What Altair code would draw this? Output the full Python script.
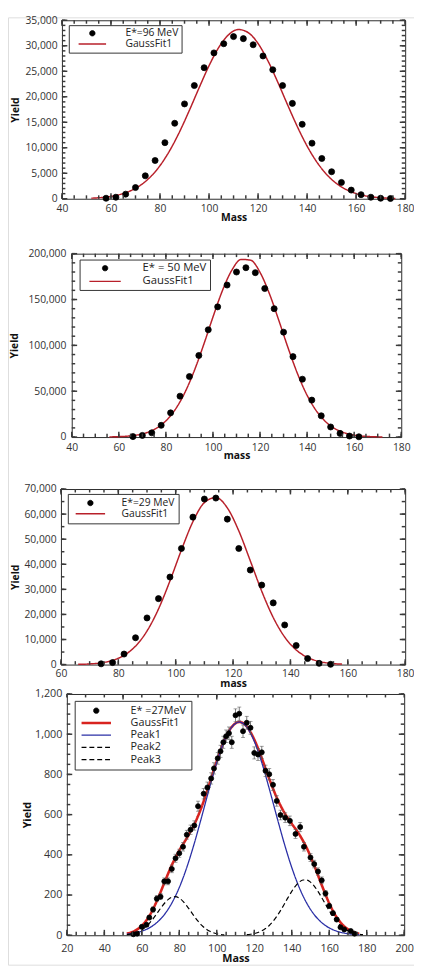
import altair as alt
import pandas as pd

FONT = "Open Sans"
PAGE = 8
W, H = 414, 966

# ---------------- Panel 1 : E*=96 MeV ----------------
p1_series = ["E*=96 MeV", "GaussFit1"]
p1_mass = [58, 62, 66, 70, 74, 78, 82, 86, 90, 94, 98, 102, 106, 110, 114,
           118, 122, 126, 130, 134, 138, 142, 146, 150, 154, 158, 162, 166, 170, 174]
p1_yield = [100, 300, 900, 2200, 4500, 7500, 11000, 14800, 18600, 22200, 25700, 28600, 30400, 31800, 31400,
            30200, 28000, 25300, 22200, 18700, 14600, 10900, 7900, 5300, 3200, 1700, 800, 300, 100, 50]
p1_fit_mass = [52, 56, 60, 64, 68, 72, 76, 80, 84, 88, 92, 96, 100, 104, 108, 112,
               116, 120, 124, 128, 132, 136, 140, 144, 148, 152, 156, 160, 164, 168, 172, 176]
p1_fit_yield = [117, 240, 473, 880, 1563, 2642, 4247, 6500, 9480, 13150, 17360, 21810, 26090, 29700, 32170, 33190,
                32570, 30440, 27060, 22910, 18460, 14160, 10330, 7180, 4750, 2990, 1790, 1020, 555, 287, 141, 66]
p1_xticks = [40, 60, 80, 100, 120, 140, 160, 180]
p1_yticks = [0, 5000, 10000, 15000, 20000, 25000, 30000, 35000]

# ---------------- Panel 2 : E* = 50 MeV ----------------
p2_series = ["E* = 50 MeV", "GaussFit1"]
p2_mass = [66, 70, 74, 78, 82, 86, 90, 94, 98, 102, 106, 110, 114, 118, 122, 126,
           130, 134, 138, 142, 146, 150, 154, 158, 162]
p2_yield = [500, 1800, 4600, 12800, 26400, 44600, 66000, 89000, 117000, 142000, 165800, 180000, 184700,
            179300, 162000, 140000, 114400, 87700, 63100, 40300, 23200, 11000, 4000, 1100, 300]
p2_fit_mass = [56, 60, 64, 68, 72, 76, 80, 84, 88, 92, 96, 100, 104, 108, 112, 116,
               120, 124, 128, 132, 136, 140, 144, 148, 152, 156, 160, 164, 168, 172]
p2_fit_yield = [173, 441, 1055, 2364, 4942, 9655, 17660, 30170, 48190, 71920, 100350, 130900, 159600, 181900,
                193750, 192900, 179600, 156250, 127100, 96620, 68640, 45600, 28330, 16440, 8910, 4520, 2145,
                950, 393, 152]
p2_xticks = [40, 60, 80, 100, 120, 140, 160, 180]
p2_yticks = [0, 50000, 100000, 150000, 200000]

# ---------------- Panel 3 : E*=29 MeV ----------------
p3_series = ["E*=29 MeV", "GaussFit1"]
p3_mass = [74, 78, 82, 86, 90, 94, 98, 102, 106, 110, 114, 118, 122, 126, 130, 134, 138, 142, 146, 150, 154]
p3_yield = [300, 800, 4200, 10700, 18600, 26300, 34900, 46300, 58800, 66000, 66400, 58000, 46300, 37700,
            31700, 24600, 15800, 7600, 2400, 500, 100]
p3_fit_mass = [66, 70, 74, 78, 82, 86, 90, 94, 98, 102, 106, 110, 114, 118, 122, 126,
               130, 134, 138, 142, 146, 150, 154, 158]
p3_fit_yield = [89, 260, 692, 1671, 3674, 7355, 13390, 22160, 33370, 45720, 56970, 64590, 66600, 62480,
                53310, 41390, 29230, 18780, 10970, 5830, 2820, 1240, 497, 180]
p3_xticks = [60, 80, 100, 120, 140, 160, 180]
p3_yticks = [0, 10000, 20000, 30000, 40000, 50000, 60000, 70000]

# ---------------- Panel 4 : E* =27MeV ----------------
p4_series = ["E* =27MeV", "GaussFit1", "Peak1", "Peak2", "Peak3"]
p4_mass = [55.5, 57.5, 60, 62.5, 64, 66, 68, 70, 72, 74, 76, 78, 80, 82, 84, 86, 88, 90, 93, 95,
           97, 98.5, 100.5, 102, 103.5, 105, 106.5, 108, 110, 112, 114, 116, 118, 120, 122, 124, 126,
           128, 130, 132, 134, 136.5, 139, 142, 144.5, 146.5, 150, 152, 154, 156, 158, 160, 162, 164,
           166, 168, 171.5, 173.5]
p4_yield = [5, 8, 42, 52, 88, 128, 182, 192, 268, 268, 330, 383, 408, 440, 500, 525, 546, 642, 704, 735,
            780, 830, 880, 915, 960, 990, 1005, 960, 1094, 1102, 1015, 1057, 1032, 907, 899, 910, 818,
            801, 748, 668, 598, 585, 569, 504, 538, 440, 387, 354, 317, 273, 208, 146, 110, 78,
            40, 29, 21, 8]
p4_err = [4, 4, 8, 9, 11, 13, 15, 15, 17, 17, 19, 20, 20, 21, 22, 23, 23, 25, 26, 27,
          28, 28, 29, 30, 30, 31, 31, 30, 32, 33, 31, 32, 32, 30, 30, 30, 28,
          28, 27, 26, 24, 24, 24, 22, 23, 21, 20, 19, 18, 17, 15, 12, 10, 9,
          7, 6, 5, 4]
p4_sum_mass = [52, 56, 60, 64, 68, 72, 76, 80, 84, 88, 92, 96, 100, 104, 108, 112,
               116, 120, 124, 128, 132, 136, 140, 144, 148, 152, 156, 160, 164, 168, 172, 176]
p4_sum_yield = [8.4, 20.6, 47, 95.8, 169.9, 260.3, 348.9, 421.9, 483.4, 551.1, 640.4, 750.4, 866.3, 967.4,
                1036.2, 1060.8, 1038.2, 973.6, 880.7, 778, 684.6, 611.2, 555.3, 501.8, 434.4, 347.1,
                249.7, 159.1, 89.2, 44.1, 19.2, 7.6]
p4_peak1_mass = p4_sum_mass
p4_peak1_yield = [5.5, 10.9, 20.4, 36.6, 62.7, 102.4, 159.7, 237.5, 337.2, 456.9, 591, 729.3, 859, 965.3,
                  1035.5, 1060, 1035.5, 965.3, 859, 729.3, 591, 456.9, 337.2, 237.5, 159.7, 102.4, 62.7,
                  36.6, 20.4, 10.9, 5.5, 2.7]
p4_peak2_mass = [52, 54, 56, 58, 60, 62, 64, 66, 68, 70, 72, 74, 76, 78, 80, 82, 84, 86, 88, 90,
                 92, 94, 96, 98, 100, 102, 104]
p4_peak2_yield = [2.9, 5.4, 9.7, 16.5, 26.6, 40.7, 59.2, 81.8, 107.2, 133.5, 157.9, 177.4, 189.2, 191.7,
                  184.4, 168.5, 146.2, 120.4, 94.2, 70, 49.4, 33.1, 21.1, 12.7, 7.3, 4, 2.1]
p4_peak3_mass = [116, 118, 120, 122, 124, 126, 128, 130, 132, 134, 136, 138, 140, 142, 144, 146,
                 148, 150, 152, 154, 156, 158, 160, 162, 164, 166, 168, 170, 172, 174, 176, 178]
p4_peak3_yield = [2.7, 4.9, 8.3, 13.7, 21.7, 33.2, 48.7, 68.8, 93.6, 122.5, 154.3, 187, 218.1, 244.7,
                  264.3, 274.7, 274.7, 264.3, 244.7, 218.1, 187, 154.3, 122.5, 93.6, 68.8, 48.7, 33.2,
                  21.7, 13.7, 8.3, 4.9, 2.7]
p4_xticks = [20, 40, 60, 80, 100, 120, 140, 160, 180, 200]
p4_xticks_top = [50, 100, 150]
p4_yticks = [0, 200, 400, 600, 800, 1000, 1200]


def steps(lo, hi, step):
    n = int(round((hi - lo) / step))
    return [lo + i * step for i in range(n + 1)]


def line_path(half):
    return "M-%.3f,0H%.3f" % (half, half)


DARKRED = "#b8202a"
TICKC = "#3a3a3a"
TICKW = 1.5
MAJ, MIN = 5.5, 3.5
AX = dict(grid=False, ticks=False, domainColor="#2a2a2a", domainWidth=1,
          labelFont=FONT, labelColor="#333333", titleFont=FONT, titleColor="#111111",
          titleFontWeight="bold")

panels = [
    dict(geo=(63, 413, 11, 193), xdom=[40, 180], ydom=[0, 35000],
         xmaj=p1_xticks, xmin=steps(40, 180, 5), xtopmaj=p1_xticks, xtopmin=steps(40, 180, 5),
         ymaj=p1_yticks, ymin=steps(0, 35000, 1000),
         lfs=10.5, tfs=10.5, xlp=5.5, ylp=5, xtitle="Mass", xty=19, ytx=-47.5,
         pts=(p1_mass, p1_yield), psize=38, err=None,
         lines=[(p1_series[1], p1_fit_mass, p1_fit_yield)],
         series=p1_series, fills=["black", DARKRED], strokes=["black", DARKRED],
         shapes=["circle", line_path(14 / 2.739)], widths=[0.8, 1.5], dashes=[[1, 0], [1, 0]],
         leg=dict(x=62, y=8, pad=3, fs=10.5, so=15.75, lo=28.5, rp=0)),
    dict(geo=(73, 409, 249, 436), xdom=[40, 180], ydom=[0, 200000],
         xmaj=p2_xticks, xmin=steps(40, 180, 5), xtopmaj=p2_xticks, xtopmin=steps(40, 180, 5),
         ymaj=p2_yticks, ymin=steps(0, 200000, 10000),
         lfs=10.5, tfs=10.5, xlp=5.5, ylp=6, xtitle="mass", xty=19, ytx=-58,
         pts=(p2_mass, p2_yield), psize=38, err=None,
         lines=[(p2_series[1], p2_fit_mass, p2_fit_yield)],
         series=p2_series, fills=["black", DARKRED], strokes=["black", DARKRED],
         shapes=["circle", line_path(16 / 2.739)], widths=[0.8, 1.5], dashes=[[1, 0], [1, 0]],
         leg=dict(x=73, y=247, pad=3, fs=11.5, so=17.25, lo=32.5, rp=0.5)),
    dict(geo=(62, 413, 489, 668), xdom=[60, 180], ydom=[0, 70000],
         xmaj=p3_xticks, xmin=steps(60, 180, 5), xtopmaj=p3_xticks, xtopmin=steps(60, 180, 5),
         ymaj=p3_yticks, ymin=steps(0, 70000, 5000),
         lfs=10.5, tfs=10.5, xlp=4.2, ylp=5, xtitle="mass", xty=19.5, ytx=-46.5,
         pts=(p3_mass, p3_yield), psize=38, err=None,
         lines=[(p3_series[1], p3_fit_mass, p3_fit_yield)],
         series=p3_series, fills=["black", DARKRED], strokes=["black", DARKRED],
         shapes=["circle", line_path(15 / 2.739)], widths=[0.8, 1.5], dashes=[[1, 0], [1, 0]],
         leg=dict(x=61, y=486, pad=4, fs=10.5, so=13.75, lo=26.5, rp=0)),
    dict(geo=(68, 412, 698, 944), xdom=[20, 200], ydom=[0, 1200],
         xmaj=p4_xticks, xmin=steps(20, 200, 5), xtopmaj=p4_xticks_top, xtopmin=steps(20, 200, 10),
         ymaj=p4_yticks, ymin=steps(0, 1200, 50),
         lfs=11, tfs=11, xlp=7.3, ylp=5, xtitle="Mass", xty=23.5, ytx=-40,
         pts=(p4_mass, p4_yield), psize=26, err=p4_err,
         lines=[(p4_series[1], p4_sum_mass, p4_sum_yield),
                (p4_series[2], p4_peak1_mass, p4_peak1_yield),
                (p4_series[3], p4_peak2_mass, p4_peak2_yield),
                (p4_series[4], p4_peak3_mass, p4_peak3_yield)],
         series=p4_series, fills=["black", "#d8231f", "#2a2fa6", "black", "black"],
         strokes=["black", "#d8231f", "#2a2fa6", "black", "black"],
         shapes=["circle"] + [line_path(15 / 2.739)] * 4,
         widths=[0.8, 2.6, 1.3, 1.2, 1.2], dashes=[[1, 0], [1, 0], [1, 0], [5, 3], [5, 3]],
         leg=dict(x=68, y=697, pad=4.5, fs=11, so=12, lo=29.5, rp=0.5)),
]


def tick_layer(vals, side, length, xs, ys, c):
    df = pd.DataFrame({"t": vals})
    if side in ("bottom", "top"):
        yval = c["ydom"][0] if side == "bottom" else c["ydom"][1]
        off = -length / 2.0 if side == "bottom" else length / 2.0
        return alt.Chart(df).mark_tick(orient="vertical", size=length, thickness=TICKW, color=TICKC,
                                       opacity=1, yOffset=off).encode(
            x=alt.X("t:Q", scale=xs, axis=None),
            y=alt.YDatum(yval, scale=ys, axis=None),
        )
    xval = c["xdom"][0] if side == "left" else c["xdom"][1]
    off = length / 2.0 if side == "left" else -length / 2.0
    return alt.Chart(df).mark_tick(orient="horizontal", size=length, thickness=TICKW, color=TICKC,
                                   opacity=1, xOffset=off).encode(
        y=alt.Y("t:Q", scale=ys, axis=None),
        x=alt.XDatum(xval, scale=xs, axis=None),
    )


def make_panel(c):
    L, R, T, B = [v - PAGE for v in c["geo"]]
    xs = alt.Scale(domain=c["xdom"], range=[L, R], nice=False, zero=False)
    ys = alt.Scale(domain=c["ydom"], range=[B, T], nice=False, zero=False)
    dom = c["series"]
    lg = c["leg"]
    leg = alt.Legend(title=None, orient="none", legendX=lg["x"], legendY=lg["y"], direction="vertical",
                     padding=lg["pad"], symbolSize=30, symbolOffset=lg["so"], labelOffset=lg["lo"],
                     labelFontSize=lg["fs"], labelFont=FONT, labelColor="#222222", labelLimit=300,
                     strokeColor="#333333", fillColor="white", rowPadding=lg["rp"])
    fill_s = alt.Scale(domain=dom, range=c["fills"])
    stroke_s = alt.Scale(domain=dom, range=c["strokes"])
    shape_s = alt.Scale(domain=dom, range=c["shapes"])
    width_s = alt.Scale(type="ordinal", domain=dom, range=c["widths"])
    dash_s = alt.Scale(domain=dom, range=c["dashes"])

    rows = []
    for name, xm, yv in c["lines"]:
        for a, b in zip(xm, yv):
            rows.append({"mass": a, "yield": b, "series": name})
    line_df = pd.DataFrame(rows)
    pt_df = pd.DataFrame({"mass": c["pts"][0], "yield": c["pts"][1], "series": dom[0]})

    layers = []
    lines = alt.Chart(line_df).mark_line(interpolate="monotone").encode(
        x=alt.X("mass:Q", scale=xs, axis=None),
        y=alt.Y("yield:Q", scale=ys, axis=None),
        stroke=alt.Stroke("series:N", scale=stroke_s, legend=leg),
        strokeWidth=alt.StrokeWidth("series:N", scale=width_s, legend=leg),
        strokeDash=alt.StrokeDash("series:N", scale=dash_s, legend=leg),
    )
    layers.append(lines)
    if c["err"] is not None:
        err_df = pd.DataFrame({"mass": c["pts"][0],
                               "lo": [y - e for y, e in zip(c["pts"][1], c["err"])],
                               "hi": [y + e for y, e in zip(c["pts"][1], c["err"])]})
        eb = alt.Chart(err_df).mark_errorbar(ticks=True, size=4, thickness=0.8, color="#555555").encode(
            x=alt.X("mass:Q", scale=xs, axis=None),
            y=alt.Y("lo:Q", scale=ys, axis=None),
            y2="hi:Q",
        )
        layers.append(eb)
    pts = alt.Chart(pt_df).mark_point(filled=True, size=c["psize"], opacity=1).encode(
        x=alt.X("mass:Q", scale=xs, axis=None),
        y=alt.Y("yield:Q", scale=ys, axis=None),
        fill=alt.Fill("series:N", scale=fill_s, legend=leg),
        stroke=alt.Stroke("series:N", scale=stroke_s, legend=leg),
        shape=alt.Shape("series:N", scale=shape_s, legend=leg),
        strokeWidth=alt.StrokeWidth("series:N", scale=width_s, legend=leg),
    )
    layers.append(pts)

    # inward ticks on all four sides (major & minor)
    layers.append(tick_layer(c["xmaj"], "bottom", MAJ, xs, ys, c))
    layers.append(tick_layer(c["xmin"], "bottom", MIN, xs, ys, c))
    layers.append(tick_layer(c["xtopmaj"], "top", MAJ, xs, ys, c))
    layers.append(tick_layer(c["xtopmin"], "top", MIN, xs, ys, c))
    layers.append(tick_layer(c["ymaj"], "left", MAJ, xs, ys, c))
    layers.append(tick_layer(c["ymin"], "left", MIN, xs, ys, c))
    layers.append(tick_layer(c["ymaj"], "right", MAJ, xs, ys, c))
    layers.append(tick_layer(c["ymin"], "right", MIN, xs, ys, c))

    x_axes = [
        alt.Axis(orient="bottom", offset=B - H, values=c["xmaj"], domain=True,
                 labelPadding=c["xlp"], labelFontSize=c["lfs"], labelFlush=False, labelOverlap=False,
                 format="d", title=c["xtitle"], titleY=c["xty"], titleBaseline="middle",
                 titleFontSize=c["tfs"], **AX),
        alt.Axis(orient="top", offset=-T, labels=False, domain=True, title=None, **AX),
    ]
    y_axes = [
        alt.Axis(orient="left", offset=-L, values=c["ymaj"], domain=True,
                 labelPadding=c["ylp"], labelFontSize=c["lfs"], labelOverlap=False, format=",d",
                 title="Yield", titleX=c["ytx"], titleAngle=270, titleBaseline="middle",
                 titleAlign="center", titleFontSize=c["tfs"], **AX),
        alt.Axis(orient="right", offset=R - W, labels=False, domain=True, title=None, **AX),
    ]
    for xa, ya in zip(x_axes, y_axes):
        layers.append(alt.Chart(line_df).mark_point(opacity=0, size=1).encode(
            x=alt.X("mass:Q", scale=xs, axis=xa),
            y=alt.Y("yield:Q", scale=ys, axis=ya),
        ))
    return alt.layer(*layers).resolve_axis(x="independent", y="independent")


chart = alt.layer(*[make_panel(c) for c in panels]).resolve_scale(
    x="independent", y="independent", fill="independent", stroke="independent",
    shape="independent", strokeWidth="independent", strokeDash="independent",
).resolve_axis(x="independent", y="independent").properties(
    width=W, height=H, padding=0, autosize=alt.AutoSizeParams(type="none"),
).configure_view(strokeWidth=0).configure(font=FONT)

chart.save("out.html", embed_options={"renderer": "svg", "actions": False})
